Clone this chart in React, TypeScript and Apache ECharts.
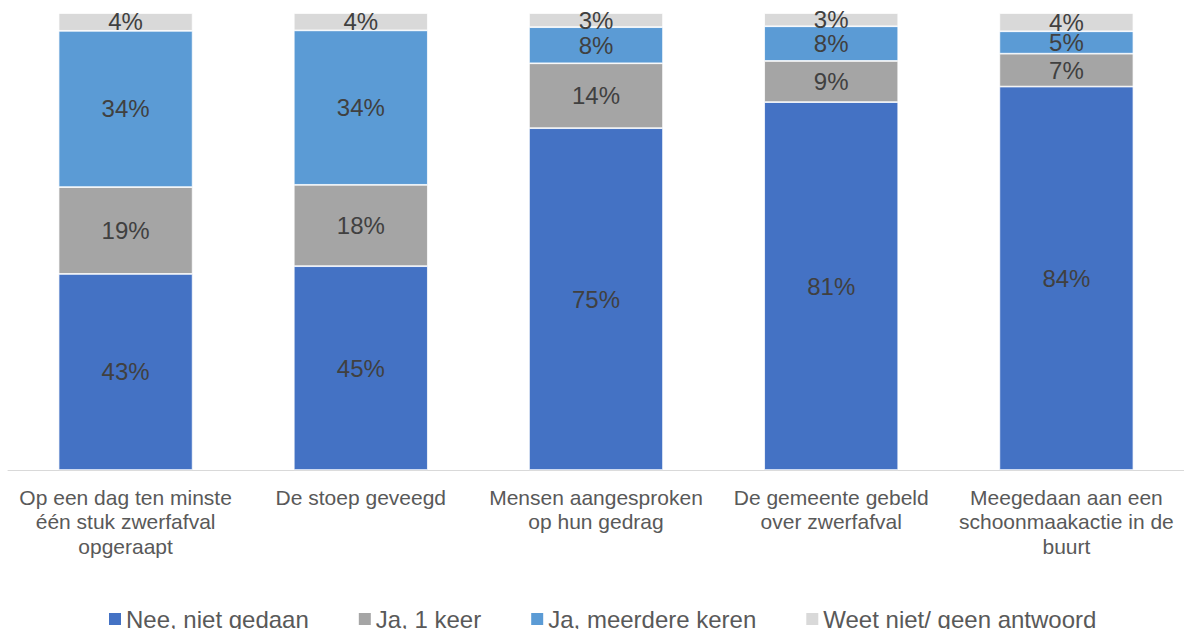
import React, { useEffect, useRef } from "react";
import * as echarts from "echarts";

const categories = [
  "Op een dag ten minste\néén stuk zwerfafval\nopgeraapt",
  "De stoep geveegd",
  "Mensen aangesproken\nop hun gedrag",
  "De gemeente gebeld\nover zwerfafval",
  "Meegedaan aan een\nschoonmaakactie in de\nbuurt",
];
const seriesNames = ["Nee, niet gedaan", "Ja, 1 keer", "Ja, meerdere keren", "Weet niet/ geen antwoord"];
const neeNietGedaan = [42.9, 44.6, 74.8, 80.5, 83.9];
const ja1Keer = [19.0, 17.8, 14.2, 9.0, 7.2];
const jaMeerdere = [34.2, 33.8, 7.9, 7.6, 4.9];
const weetNiet = [3.9, 3.8, 3.1, 2.9, 4.0];
const colors = ["#4472C4", "#A5A5A5", "#5B9BD5", "#D9D9D9"];

export default function App() {
  const ref = useRef<HTMLDivElement>(null);
  useEffect(() => {
    if (!ref.current) return;
    const chart = echarts.init(ref.current, null, { renderer: "svg" });
    const font = "'Liberation Sans', Arial, sans-serif";
    const data = [neeNietGedaan, ja1Keer, jaMeerdere, weetNiet];
    chart.setOption({
      animation: false,
      textStyle: { fontFamily: font },
      grid: { left: 8, right: 0, top: 13, bottom: 159, containLabel: false },
      legend: {
        top: 602,
        left: 102,
        itemWidth: 14,
        itemHeight: 14,
        itemGap: 48,
        icon: "rect",
        textStyle: { fontSize: 24, color: "#595959", fontFamily: font, padding: [0, 0, 0, -1] },
        data: seriesNames,
      },
      xAxis: {
        type: "category",
        data: categories,
        axisLine: { lineStyle: { color: "#D9D9D9", width: 1 } },
        axisTick: { show: false },
        axisLabel: {
          color: "#595959",
          fontSize: 21,
          lineHeight: 24.5,
          margin: 15,
          interval: 0,
          fontFamily: font,
        },
      },
      yAxis: {
        type: "value",
        min: 0,
        max: 100,
        show: false,
        splitLine: { show: false },
      },
      series: seriesNames.map((name, i) => ({
        name,
        type: "bar",
        stack: "total",
        barCategoryGap: "43%",
        data: data[i],
        itemStyle: { color: colors[i], borderColor: "#ffffff", borderWidth: 0.75 },
        label: {
          show: true,
          position: "inside",
          color: "#404040",
          fontSize: 24,
          fontFamily: font,
          formatter: (p: any) => Math.round(p.value) + "%",
        },
      })),
    });
    return () => chart.dispose();
  }, []);
  return (
    <div
      ref={ref}
      style={{ position: "fixed", left: 0, top: 0, width: 1184, height: 629, background: "#fff" }}
    />
  );
}
